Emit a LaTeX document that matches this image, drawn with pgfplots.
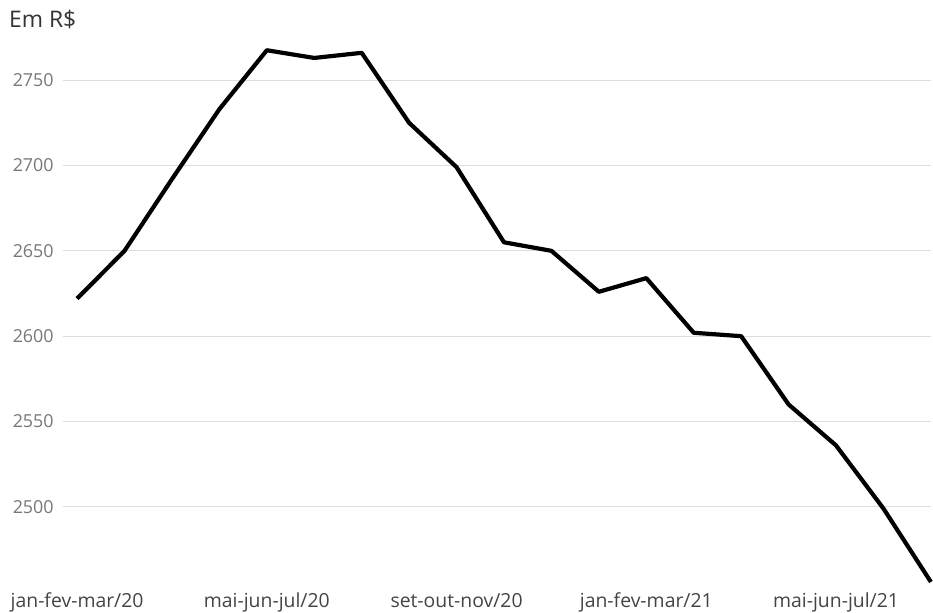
\documentclass[border=0pt]{standalone}
\usepackage{pgfplots}
\pgfplotsset{compat=1.18}
\usepackage{fontspec}
\setmainfont{Open Sans}
\definecolor{gridc}{HTML}{DDDDDD}
\definecolor{ytc}{HTML}{777777}
\definecolor{xtc}{HTML}{444444}
\begin{document}
\begin{tikzpicture}
\begin{axis}[
  scale only axis,
  width=870bp, height=556bp,
  xmin=-0.3, xmax=18,
  ymin=2455, ymax=2780,
  axis line style={draw=none},
  clip=false,
  ymajorgrids, xmajorgrids=false,
  grid style={gridc, line width=1bp},
  ytick={2500,2550,2600,2650,2700,2750},
  xtick={0,4,8,12,16},
  xticklabels={jan-fev-mar/20, mai-jun-jul/20, set-out-nov/20, jan-fev-mar/21, mai-jun-jul/21},
  /pgf/number format/assume math mode=true,
  /pgf/number format/.cd, 1000 sep={}, /pgfplots/.cd,
  major tick length=0pt,
  tick style={draw=none},
  yticklabel style={anchor=east, inner sep=0pt, xshift=-9bp, font=\fontsize{18}{20}\selectfont, text=ytc},
  xticklabel style={anchor=base, inner sep=0pt, yshift=-24bp, font=\fontsize{19.5}{21}\selectfont, text=xtc},
]
\addplot[black, line width=4.2bp, line join=round] coordinates {
(0,2622) (1,2650) (2,2692) (3,2733) (4,2767.5) (5,2763) (6,2766)
(7,2725) (8,2699) (9,2655) (10,2650) (11,2626) (12,2634) (13,2602)
(14,2600) (15,2560) (16,2536) (17,2499) (18,2456)
};
\end{axis}
\node[anchor=base west, inner sep=0pt, font=\fontsize{23}{25}\selectfont, text=black!80] at (-54bp,557bp) {Em R\$};
\path[use as bounding box] (-63bp,-29bp) rectangle (870bp,585bp);
\end{tikzpicture}
\end{document}
